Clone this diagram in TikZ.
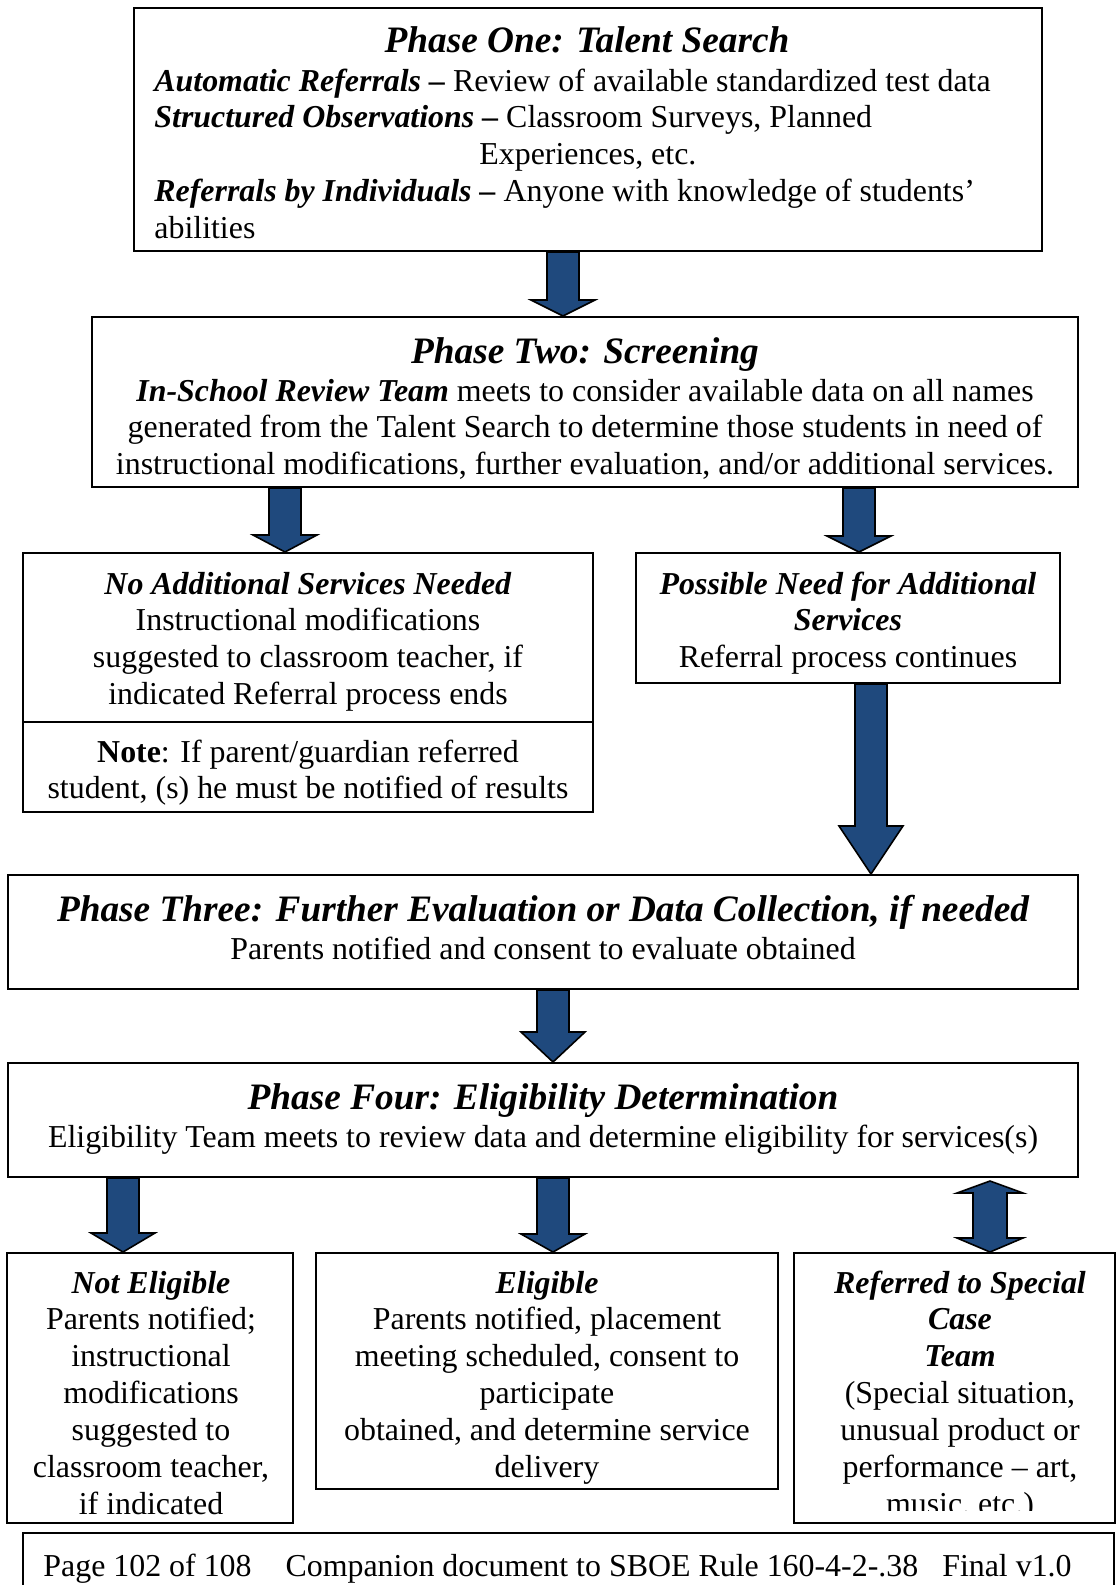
\documentclass[tikz,border=0pt]{standalone}
\usepackage{fontspec}
\setmainfont{Liberation Serif}
\usetikzlibrary{positioning, calc, fit}
\definecolor{arrowblue}{RGB}{31,73,125}

% block arrow: from node, to node, x (px), head length (px)
\newcommand\blockarrow[4]{%
  \draw[barrow] let \p1=(#1.south), \p2=(#2.north), \n1={#3*0.5pt}, \n2={#4*0.5pt} in
    (\n1-8pt,\y1) -- (\n1+8pt,\y1) -- (\n1+8pt,\y2+\n2) -- (\n1+16pt,\y2+\n2)
    -- (\n1,\y2) -- (\n1-16pt,\y2+\n2) -- (\n1-8pt,\y2+\n2) -- cycle;}
% double block arrow: from node, to node, x (px), top head, bottom head (px)
\newcommand\dblarrow[5]{%
  \draw[barrow] let \p1=(#1.south), \p2=(#2.north), \n1={#3*0.5pt}, \n2={#4*0.5pt}, \n3={#5*0.5pt} in
    (\n1,\y1-1.5pt) -- (\n1+16.5pt,\y1-\n2) -- (\n1+8.5pt,\y1-\n2) -- (\n1+8.5pt,\y2+\n3)
    -- (\n1+16.5pt,\y2+\n3) -- (\n1,\y2) -- (\n1-16.5pt,\y2+\n3) -- (\n1-8.5pt,\y2+\n3)
    -- (\n1-8.5pt,\y1-\n2) -- (\n1-16.5pt,\y1-\n2) -- cycle;}

\begin{document}
\begin{tikzpicture}[x=0.5pt, y=-0.5pt,
  box/.style={draw, line width=1pt, inner sep=0pt},
  ttl/.style={font=\fontsize{18.65pt}{21pt}\selectfont\bfseries\itshape, inner sep=0pt, anchor=base},
  txt/.style={font=\fontsize{15.95pt}{18.45pt}\selectfont, inner sep=0pt, anchor=base, align=center},
  barrow/.style={draw=black, line width=0.8pt, fill=arrowblue, line join=miter}]
\useasboundingbox (0,0) rectangle (1117,1585);

% phase one
\node[box, fit={(134,8) (1042,251)}] (one) {};
\node[ttl] (onettl) at (587,52.5) {Phase One: Talent Search};
\node[txt, align=flush left, text width=444pt, anchor=base west] (onetxt) at (154,91)
  {\textbf{\textit{Automatic Referrals --}} Review of available standardized test data\\
   \textbf{\textit{Structured Observations --}} Classroom Surveys, Planned\\
   \hspace*{162.5pt}Experiences, etc.\\
   \textbf{\textit{Referrals by Individuals --}} Anyone with knowledge of students’\\
   abilities};

% phase two
\node[box, fit={(92,317) (1078,487)}] (two) {};
\node[ttl] (twottl) at (585,363.5) {Phase Two: Screening};
\node[txt] (twotxt) at (585,474.8)
  {\textbf{\textit{In-School Review Team}} meets to consider available data on all names\\
   generated from the Talent Search to determine those students in need of\\
   instructional modifications, further evaluation, and/or additional services.};

% outcomes of screening
\node[box, fit={(23,553) (593,722)}] (noadd) {};
\node[box, fit={(23,722) (593,812)}] (note) {};
\node[txt] (noaddtxt) at (308,704.7)
  {\textbf{\textit{No Additional Services Needed}}\\ Instructional modifications\\
   suggested to classroom teacher, if\\ indicated Referral process ends};
\node[txt] (notetxt) at (308,798.9)
  {\textbf{Note}: If parent/guardian referred\\ student, (s) he must be notified of results};
\node[box, fit={(636,553) (1060,683)}] (poss) {};
\node[txt] (posstxt) at (848,667.8)
  {\textbf{\textit{Possible Need for Additional}}\\ \textbf{\textit{Services}}\\ Referral process continues};

% phase three
\node[box, fit={(8,875) (1078,989)}] (three) {};
\node[ttl] (threettl) at (543,921.5) {Phase Three: Further Evaluation or Data Collection, if needed};
\node[txt] (threetxt) at (543,959) {Parents notified and consent to evaluate obtained};

% phase four
\node[box, fit={(8,1063) (1078,1177)}] (four) {};
\node[ttl] (fourttl) at (543,1109.5) {Phase Four: Eligibility Determination};
\node[txt] (fourtxt) at (543,1147)
  {Eligibility Team meets to review data and determine eligibility for services(s)};

% results
\node[box, fit={(7,1253) (293,1523)}] (notel) {};
\node[txt] (noteltxt) at (151,1514.4)
  {\textbf{\textit{Not Eligible}}\\ Parents notified;\\ instructional\\ modifications\\
   suggested to\\ classroom teacher,\\ if indicated};
\node[box, fit={(316,1253) (778,1489)}] (elig) {};
\node[txt] (eligtxt) at (547,1477.5)
  {\textbf{\textit{Eligible}}\\ Parents notified, placement\\ meeting scheduled, consent to\\
   participate\\ obtained, and determine service\\ delivery};
\node[box, fit={(794,1253) (1115,1523)}] (ref) {};
\begin{scope}
  \clip (794,1253) rectangle (1115,1510);
  \node[txt] (reftxt) at (960,1514.4)
    {\textbf{\textit{Referred to Special}}\\ \textbf{\textit{Case}}\\ \textbf{\textit{Team}}\\
     (Special situation,\\ unusual product or\\ performance -- art,\\ music, etc.)};
\end{scope}

% footer
\node[box, fit={(23,1533) (1114,1600)}] (foot) {};
\node[txt, anchor=base west] (foottxt) at (43,1576)
  {Page 102 of 108\hspace{17pt}Companion document to SBOE Rule 160-4-2-.38\hspace{12pt}Final v1.0};

% arrows
\blockarrow{one}{two}{563}{16}
\blockarrow{two}{noadd}{285}{17}
\blockarrow{two}{poss}{859}{16}
\blockarrow{poss}{three}{871}{48}
\blockarrow{three}{four}{553}{30}
\blockarrow{four}{notel}{123}{19}
\blockarrow{four}{elig}{553}{18}
\dblarrow{four}{ref}{990}{15}{14}
\end{tikzpicture}
\end{document}
